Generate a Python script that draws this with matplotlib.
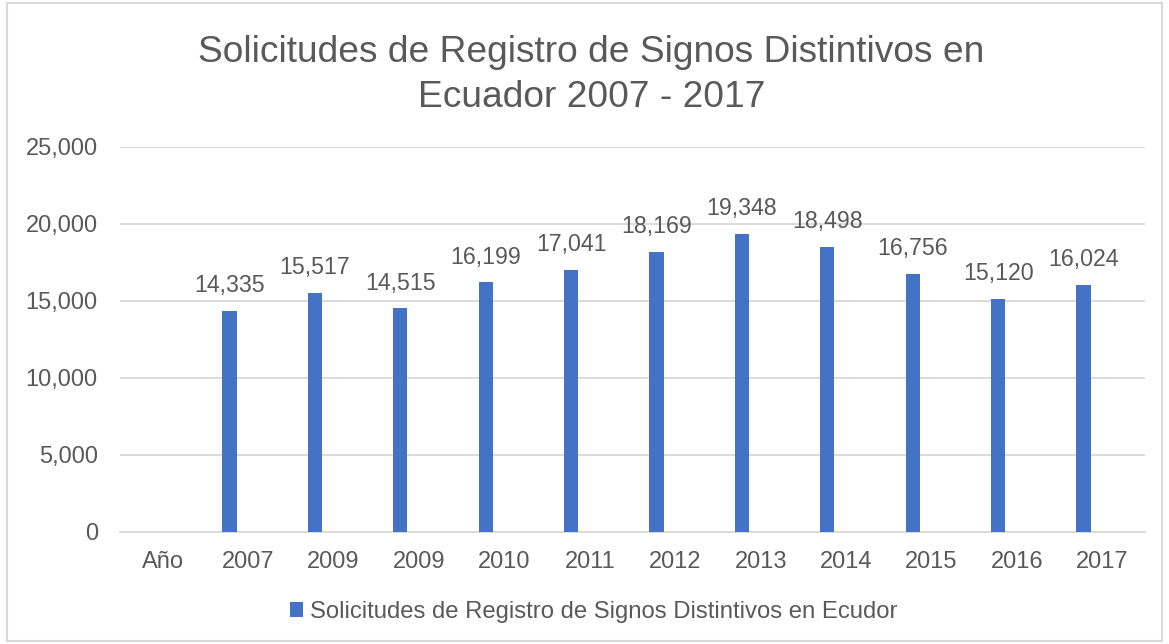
import matplotlib
matplotlib.use("Agg")
import matplotlib.pyplot as plt
from matplotlib.patches import Rectangle
from matplotlib.ticker import FuncFormatter, MultipleLocator

categories = ["Año", "2007", "2009", "2009", "2010", "2011", "2012", "2013", "2014", "2015", "2016", "2017"]
values = [None, 14335, 15517, 14515, 16199, 17041, 18169, 19348, 18498, 16756, 15120, 16024]
series_name = "Solicitudes de Registro de Signos Distintivos en Ecudor"
title = "Solicitudes de Registro de Signos Distintivos en\nEcuador 2007 - 2017"

plt.rcParams['font.family'] = ['Liberation Sans', 'DejaVu Sans']
TXT = "#595959"
BAR = "#4472C4"
GRID = "#D9D9D9"
BAR_SHIFT = -0.22  # bar drawn left of category centre (clustered slot)

fig = plt.figure(figsize=(11.69, 6.44), dpi=100)
ax = fig.add_axes([0.1027, 0.174, 0.8768, 0.5978])

x = list(range(len(categories)))
xb = [xi + BAR_SHIFT for xi in x]
heights = [v if v is not None else 0 for v in values]
bars = ax.bar(xb, heights, width=0.167, color=BAR, label=series_name, zorder=3)
for xi, v in zip(xb, values):
    if v is None:
        continue
    ax.annotate(f"{v:,}", (xi, v), xytext=(0, 10), textcoords="offset points",
                ha="center", va="bottom", fontsize=16.7, color=TXT)

ax.set_xlim(-0.5, len(categories) - 0.5)
ax.set_ylim(0, 25000)
ax.yaxis.set_major_locator(MultipleLocator(5000))
ax.yaxis.set_major_formatter(FuncFormatter(lambda v, p: f"{int(v):,}"))
ax.set_xticks(x)
ax.set_xticklabels(categories)
ax.tick_params(axis='both', length=0, labelsize=17, labelcolor=TXT)
ax.tick_params(axis='x', pad=14)
ax.tick_params(axis='y', pad=16)
ax.grid(axis='y', color=GRID, linewidth=1.3, zorder=0)
for s in ["top", "right", "left"]:
    ax.spines[s].set_visible(False)
ax.spines["bottom"].set_color(GRID)
ax.spines["bottom"].set_linewidth(1.3)

fig.text(0.506, 0.884, title, ha="center", va="center", fontsize=26.7, color=TXT, linespacing=1.38)

leg = fig.legend(handles=[bars], labels=[series_name], loc="center", bbox_to_anchor=(0.5077, 0.050),
                 frameon=False, fontsize=17.2, handlelength=0.55, handleheight=0.55,
                 handletextpad=0.3)
for t in leg.get_texts():
    t.set_color(TXT)

fig.patches.append(Rectangle((0.006, 0.004), 0.988, 0.992, transform=fig.transFigure,
                             fill=False, edgecolor="#D9D9D9", linewidth=1.5))

fig.savefig("out.png", dpi=100)
